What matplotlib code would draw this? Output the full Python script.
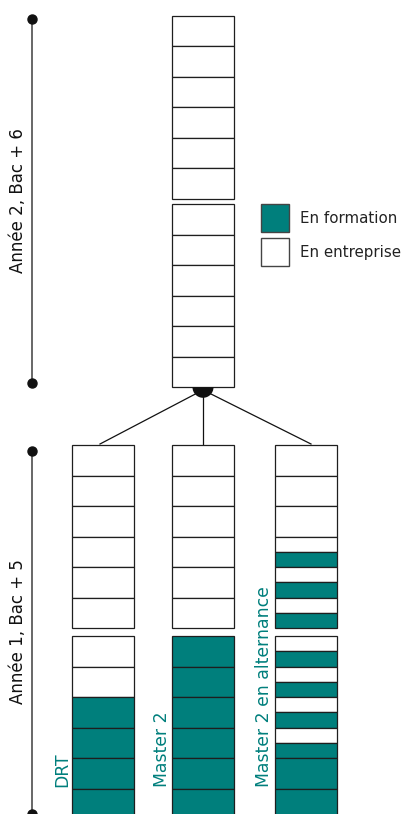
import matplotlib
matplotlib.use("Agg")
import matplotlib.pyplot as plt
from matplotlib.patches import Wedge, Rectangle

# ---------------- data ----------------
# states: 1 = "En formation" (teal), 0 = "En entreprise" (white); durations in months, listed top to bottom
year2_durations = [1] * 12
year2_states = [0] * 12

columns = ["DRT", "Master 2", "Master 2 en alternance"]
drt_durations = [1] * 12
drt_states = [0] * 8 + [1] * 4
m2_durations = [1] * 12
m2_states = [0] * 6 + [1] * 6
alt_durations = [1, 1, 1, .5, .5, .5, .5, .5, .5,
                 .5, .5, .5, .5, .5, .5, .5, .5, 1, 1]
alt_states = [0, 0, 0, 0, 1, 0, 1, 0, 1,
              0, 1, 0, 1, 0, 1, 0, 1, 1, 1]

legend_labels = ["En formation", "En entreprise"]
year_labels = ["Année 2, Bac + 6", "Année 1, Bac + 5"]

# ---------------- style / layout ----------------
TEAL = "#007f7c"
EDGE = "#1e1e1e"
W, H = 403, 814
fig = plt.figure(figsize=(W / 100, H / 100), dpi=100)
ax = fig.add_axes([0, 0, 1, 1])
ax.set_xlim(0, W)
ax.set_ylim(H, 0)
ax.axis("off")

MONTH = 30.5
COL_W = 62


def draw_column(xc, top, gap, durations, states):
    t = 0.0
    for d, s in zip(durations, states):
        y = top + t * MONTH + (gap if t >= 6 - 1e-9 else 0)
        ax.bar(xc, d * MONTH, width=COL_W, bottom=y,
               color=TEAL if s else "white", edgecolor=EDGE,
               linewidth=0.9, zorder=2)
        t += d


# top column (year 2)
top_x = 203
draw_column(top_x, 15.7, 5.6, year2_durations, year2_states)

# bottom columns (year 1)
col_x = [103, 203, 306]
col_data = [(drt_durations, drt_states), (m2_durations, m2_states),
            (alt_durations, alt_states)]
for xc, (d, s) in zip(col_x, col_data):
    draw_column(xc, 445, 8, d, s)

# column labels
label_base_x = [67, 167, 269]
for bx, lab in zip(label_base_x, columns):
    ax.text(bx, 787, lab, rotation=90, rotation_mode="anchor",
            ha="left", va="baseline", color=TEAL, fontsize=12.4,
            family="DejaVu Sans")

# connector: semicircle and lines
ax.add_patch(Wedge((top_x, 387.3), 10.5, 0, 180, facecolor="#111111",
                   edgecolor="none", zorder=3))
ax.plot([top_x, 100], [390, 444], color="#111111", lw=0.9, zorder=1)
ax.plot([top_x, top_x], [387, 445], color="#111111", lw=0.9, zorder=1)
ax.plot([top_x, 311], [390, 444], color="#111111", lw=0.9, zorder=1)

# year lines
for (y0, y1), lab, yc in zip([(18.7, 383), (451, 814)], year_labels, [200.5, 631.5]):
    ax.plot([32, 32], [y0, y1], color="#5c5c5c", lw=1.3, zorder=1)
    ax.plot([32, 32], [y0, y1], "o", color="#111111", ms=6.5, zorder=2,
            clip_on=False)
    ax.text(23, yc, lab, rotation=90, rotation_mode="anchor",
            ha="center", va="baseline", color="#111111", fontsize=12,
            family="DejaVu Sans")

# legend
for yb, fc, lab in zip([204, 238], [TEAL, "white"], legend_labels):
    ax.add_patch(Rectangle((261, yb), 28, 28, facecolor=fc,
                           edgecolor="#444444", lw=1.0, zorder=2))
    ax.text(300, yb + 19, lab, ha="left", va="baseline", color="#222222",
            fontsize=10.8, family="DejaVu Sans")

fig.savefig("out.png", dpi=100)
